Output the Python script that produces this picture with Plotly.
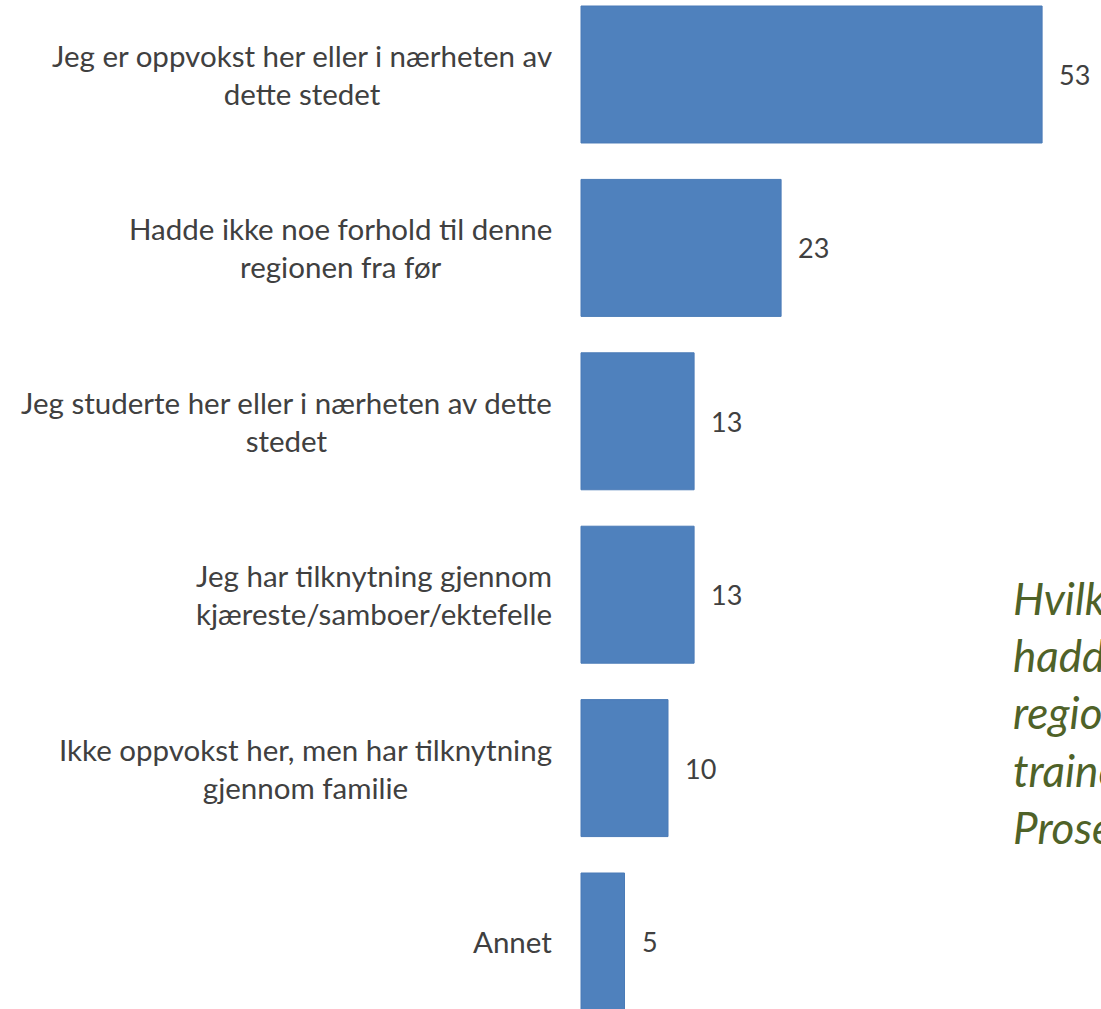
import plotly.graph_objects as go

# Survey answers: background connection to the region (percent)
categories = [
    "Jeg er oppvokst her eller i nærheten av<br>dette stedet",
    "Hadde ikke noe forhold til denne<br>regionen fra før",
    "Jeg studerte her eller i nærheten av dette<br>stedet",
    "Jeg har tilknytning gjennom<br>kjæreste/samboer/ektefelle",
    "Ikke oppvokst her, men har tilknytning<br>gjennom familie",
    "Annet",
]
values = [53, 23, 13, 13, 10, 5]
value_labels = ["53", "23", "13", "13", "10", "5"]
side_note = "Hvilken tilknytning<br>hadde du til denne<br>regionen før du ble<br>trainee?<br>Prosent"

W, H = 1101, 1009
BAR_COLOR = "#4F81BD"
TEXT_COLOR = "#404040"
FONT = "Lato"

ids = list(range(len(categories)))

fig = go.Figure(
    go.Bar(
        x=values,
        y=ids,
        orientation="h",
        marker=dict(color=BAR_COLOR, line=dict(color="#4A7BB7", width=1)),
        hoverinfo="skip",
    )
)

annotations = []
for i, (cat, v, lab) in enumerate(zip(categories, values, value_labels)):
    # category label to the left of the bar
    annotations.append(dict(
        x=554 / W, xref="paper", y=i, yref="y",
        text=cat, showarrow=False, xanchor="right", yanchor="middle",
        align="center", font=dict(family=FONT, size=29.5, color=TEXT_COLOR),
    ))
    # value label just past the bar end
    annotations.append(dict(
        x=v, xref="x", y=i, yref="y",
        text=lab, showarrow=False, xanchor="left", yanchor="middle",
        xshift=15, font=dict(family=FONT, size=27, color=TEXT_COLOR),
    ))

annotations.append(dict(
    x=1011 / W, xref="paper", y=1 - 712 / H, yref="paper",
    text=side_note, showarrow=False, xanchor="left", yanchor="middle",
    align="left", font=dict(family=FONT, size=44, color="#4F6228", style="italic"),
))

px_per_unit = 8.7
x0_px = 581
bar_pitch = 173.4
first_center = 74.5

fig.update_layout(
    width=W, height=H,
    margin=dict(l=0, r=0, t=0, b=0),
    paper_bgcolor="white", plot_bgcolor="white",
    bargap=0.21,
    showlegend=False,
    annotations=annotations,
    xaxis=dict(
        range=[-x0_px / px_per_unit, (W - x0_px) / px_per_unit],
        visible=False, fixedrange=True,
    ),
    yaxis=dict(
        range=[(H - first_center) / bar_pitch, -first_center / bar_pitch],
        visible=False, fixedrange=True,
    ),
)

fig.write_html("out.html")
